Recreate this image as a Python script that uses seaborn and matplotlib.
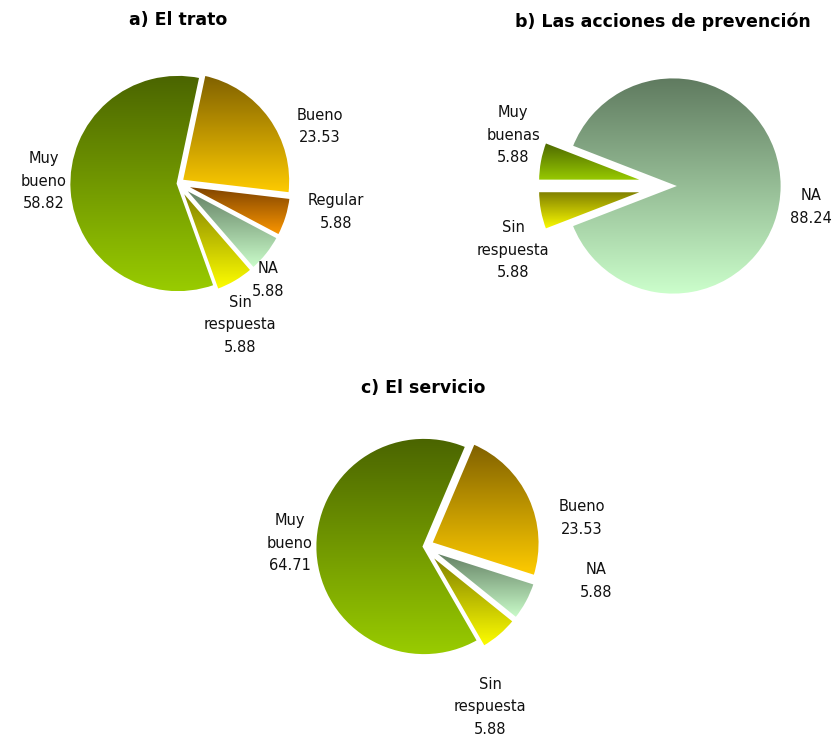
import numpy as np
import matplotlib
matplotlib.use("Agg")
import matplotlib.pyplot as plt
import seaborn as sns

sns.set_theme(style="white")
plt.rcParams['font.family'] = ['DejaVu Sans']

# ---------------- data ----------------
a_categories = ["Bueno", "Regular", "NA", "Sin respuesta", "Muy bueno"]
a_values = [23.53, 5.88, 5.88, 5.88, 58.82]

b_categories = ["Muy buenas", "Sin respuesta", "NA"]
b_values = [5.88, 5.88, 88.24]

c_categories = ["Bueno", "NA", "Sin respuesta", "Muy bueno"]
c_values = [23.53, 5.88, 5.88, 64.71]

titles = ["a) El trato", "b) Las acciones de prevención", "c) El servicio"]

# ---------------- styles ----------------
gradients = {
    "Muy bueno": ("#4a6400", "#99cc00"),
    "Muy buenas": ("#4a6400", "#99cc00"),
    "Bueno": ("#7f6000", "#ffcc00"),
    "Regular": ("#7a4000", "#ff9900"),
    "NA": ("#5f7a5f", "#ccffcc"),
    "Sin respuesta": ("#7a7a00", "#ffff00"),
}

W, H = 839, 736
fig = plt.figure(figsize=(W / 100, H / 100), dpi=100)
ax = fig.add_axes([0, 0, 1, 1])


def label_text(cat, val):
    return cat.replace(" ", "\n") + "\n" + f"{val:.2f}"


def draw_pie(cats, vals, center_px, radius, startangle, counterclock, explode,
             label_pos, title, title_pos):
    cx, cy = center_px
    wedges, _ = ax.pie(vals, center=(cx, H - cy), radius=radius,
                       startangle=startangle, counterclock=counterclock,
                       explode=[e * radius for e in explode], frame=False,
                       wedgeprops=dict(edgecolor="white", linewidth=2.0))
    for w, cat in zip(wedges, cats):
        ext = w.get_path().get_extents()
        cmap = sns.blend_palette(list(gradients[cat]), n_colors=256, as_cmap=True)
        grad = np.linspace(1, 0, 256).reshape(-1, 1)
        w.set_facecolor("none")
        im = ax.imshow(grad, cmap=cmap, aspect="auto", origin="lower",
                       extent=(ext.x0, ext.x1, ext.y0, ext.y1),
                       interpolation="bilinear", zorder=1)
        im.set_clip_path(w)
        w.set_zorder(2)
    for cat, val, (lx, ly) in zip(cats, vals, label_pos):
        ax.text(lx, H - ly, label_text(cat, val), ha="center", va="center",
                fontsize=10.5, color="#111111", linespacing=1.6)
    ax.text(title_pos[0], H - title_pos[1], title, ha="center", va="center",
            fontsize=12.5, fontweight="bold", color="black")


draw_pie(a_categories, a_values, (178, 183.5), 109, 78, False,
         [0.04, 0.045, 0.045, 0.045, 0.0],
         [(320, 126.5), (336, 212), (268, 280), (240, 325), (44, 181)],
         titles[0], (178, 20))

draw_pie(b_categories, b_values, (673, 186), 109, 158.8, True,
         [0.245, 0.245, 0.0],
         [(513, 135), (513, 250), (811, 207)],
         titles[1], (663, 22))

draw_pie(c_categories, c_values, (424, 546.5), 109, 67, False,
         [0.07, 0.075, 0.075, 0.0],
         [(582, 518), (596, 581), (490, 707), (290, 543)],
         titles[2], (423, 388))

ax.set_xlim(0, W)
ax.set_ylim(0, H)
ax.set_aspect("equal")
ax.axis("off")

fig.savefig("out.png", dpi=100, facecolor="white")
